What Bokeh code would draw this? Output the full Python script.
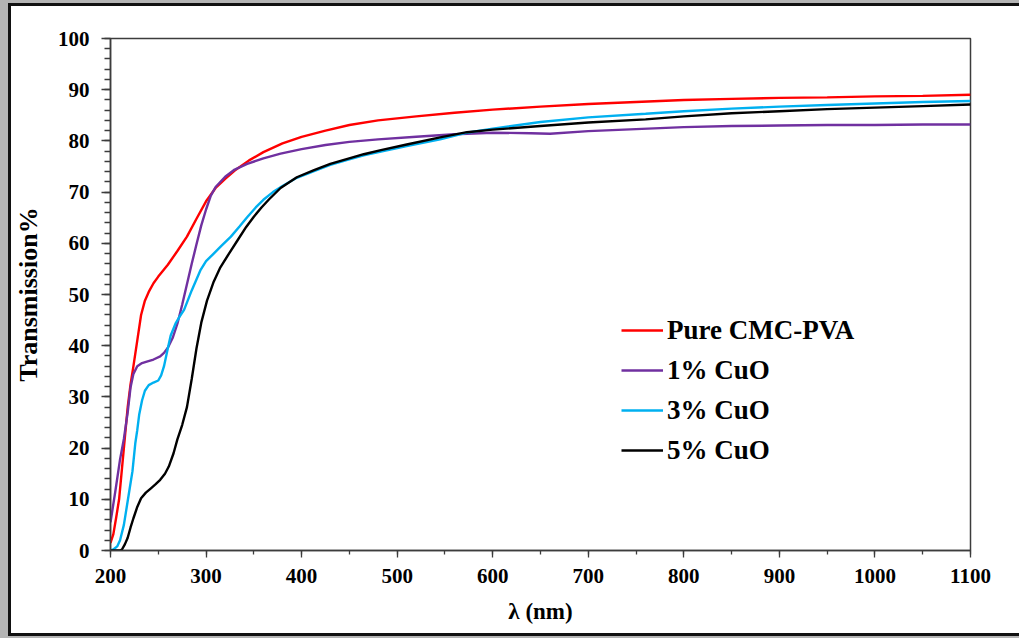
from bokeh.plotting import figure
from bokeh.models import Legend, LegendItem, Range1d, SingleIntervalTicker
from bokeh.embed import file_html
from bokeh.resources import INLINE

# Wavelength (nm) and transmission (%) for each film
wl_pure = [200, 203, 206, 209, 212, 215, 218, 221, 224, 228, 232, 236, 240, 245, 250, 260, 270, 280,
           290, 300, 310, 320, 330, 345, 360, 380, 400, 425, 450, 480, 520, 560, 600, 650, 700, 750,
           800, 850, 900, 950, 1000, 1050, 1100]
t_pure = [1.5, 3.2, 6.5, 10.0, 16.0, 22.0, 28.0, 32.5, 36.0, 41.0, 46.0, 48.8, 50.5, 52.2, 53.5, 55.8,
          58.5, 61.3, 64.8, 68.2, 70.8, 72.6, 74.2, 76.2, 77.8, 79.5, 80.8, 82.0, 83.1, 84.0, 84.8,
          85.5, 86.1, 86.7, 87.2, 87.6, 88.0, 88.2, 88.4, 88.5, 88.7, 88.8, 89.0]

wl_cuo1 = [200, 205, 210, 214, 218, 221, 224, 228, 233, 238, 245, 252, 256, 260, 265, 270, 275, 280,
           285, 290, 295, 300, 305, 310, 320, 330, 343, 360, 378, 400, 425, 450, 480, 520, 560, 600,
           640, 660, 700, 750, 800, 850, 900, 950, 1000, 1050, 1100]
t_cuo1 = [5.5, 11.5, 17.8, 21.8, 27.0, 31.9, 34.5, 36.0, 36.6, 36.9, 37.3, 37.9, 38.6, 39.6, 41.5,
          44.3, 48.0, 52.0, 56.0, 59.8, 63.5, 66.6, 69.3, 71.0, 73.0, 74.4, 75.5, 76.6, 77.5, 78.4,
          79.2, 79.8, 80.3, 80.8, 81.3, 81.6, 81.5, 81.4, 81.9, 82.3, 82.7, 82.9, 83.0, 83.1, 83.1,
          83.2, 83.2]

wl_cuo3 = [200, 203, 207, 210, 214, 217, 220, 223, 226, 228, 230, 233, 236, 240, 245, 250, 253, 256,
           260, 263, 268, 272, 277, 285, 294, 300, 308, 316, 326, 335, 343, 352, 360, 370, 380, 395,
           413, 430, 448, 465, 483, 510, 545, 573, 600, 650, 700, 760, 800, 850, 900, 950, 1000, 1050,
           1100]
t_cuo3 = [0.0, 0.2, 0.8, 2.0, 5.0, 8.5, 12.0, 15.5, 21.0, 23.5, 26.5, 29.3, 31.2, 32.3, 32.8, 33.2,
          34.2, 36.0, 39.5, 42.0, 44.3, 45.6, 47.0, 50.8, 54.7, 56.5, 58.0, 59.5, 61.3, 63.3, 65.1,
          67.0, 68.5, 70.0, 71.2, 72.8, 74.1, 75.3, 76.3, 77.2, 77.9, 79.0, 80.3, 81.6, 82.4, 83.7,
          84.6, 85.3, 85.8, 86.3, 86.7, 87.0, 87.3, 87.6, 87.8]

wl_cuo5 = [200, 205, 210, 212, 215, 218, 221, 224, 228, 232, 237, 242, 247, 252, 257, 261, 266, 270,
           275, 280, 285, 290, 295, 301, 308, 315, 324, 333, 342, 350, 358, 366, 378, 395, 413, 430,
           448, 465, 483, 510, 545, 573, 600, 650, 700, 760, 800, 850, 900, 950, 1000, 1050, 1100]
t_cuo5 = [0.0, 0.0, 0.0, 0.2, 1.2, 2.5, 4.5, 6.3, 8.5, 10.2, 11.3, 12.1, 12.9, 13.8, 15.0, 16.4,
          19.0, 21.7, 24.5, 28.0, 33.5, 39.5, 44.5, 48.8, 52.5, 55.3, 58.0, 60.6, 63.2, 65.2, 67.0,
          68.6, 70.8, 72.9, 74.3, 75.5, 76.5, 77.4, 78.2, 79.3, 80.7, 81.7, 82.2, 82.9, 83.6, 84.2,
          84.8, 85.4, 85.8, 86.2, 86.5, 86.8, 87.1]

series_names = ["Pure CMC-PVA", "1% CuO", "3% CuO", "5% CuO"]
series_colors = ["#FF0000", "#7030A0", "#00B0F0", "#000000"]

SERIF = "Liberation Serif"

p = figure(width=1019, height=638, output_backend="svg", toolbar_location=None,
           x_range=Range1d(200, 1100), y_range=Range1d(0, 100),
           min_border_left=110, min_border_right=49, min_border_top=38, min_border_bottom=88)

# Page frame: grey edge with a dark rule along the left, top and bottom
p.border_fill_alpha = 0
p.styles = {
    "background": "white",
    "box-shadow": ("inset 8px 3px 0 0 #b4b4b4, inset 0 -2px 0 0 #b4b4b4, "
                   "inset 11px 6px 0 0 #111111, inset 0 -5px 0 0 #111111"),
}

p.background_fill_color = "white"
p.outline_line_color = "#3c3c3c"
p.outline_line_width = 1.5
p.xgrid.visible = False
p.ygrid.visible = False

p.xaxis.ticker = SingleIntervalTicker(interval=100, num_minor_ticks=2)
p.yaxis.ticker = SingleIntervalTicker(interval=10, num_minor_ticks=5)

for ax in (p.xaxis[0], p.yaxis[0]):
    ax.axis_line_color = "#3c3c3c"
    ax.axis_line_width = 1.5
    ax.major_tick_line_color = "#3c3c3c"
    ax.minor_tick_line_color = "#3c3c3c"
    ax.major_tick_line_width = 1.3
    ax.minor_tick_line_width = 1.3
    ax.major_tick_in = 0
    ax.minor_tick_in = 0
    ax.major_label_text_font = SERIF
    ax.major_label_text_font_style = "bold"
    ax.major_label_text_font_size = "21px"
    ax.major_label_text_color = "#000000"
    ax.axis_label_text_font = SERIF
    ax.axis_label_text_font_style = "bold"
    ax.axis_label_text_color = "#000000"

p.yaxis.major_tick_out = 9
p.yaxis.minor_tick_out = 6
p.yaxis.major_label_standoff = 12
p.yaxis.axis_label = "Transmission%"
p.yaxis.axis_label_text_font_size = "26px"
p.yaxis.axis_label_standoff = 12

p.xaxis.major_tick_out = 7
p.xaxis.minor_tick_out = 4
p.xaxis.major_label_standoff = 11
p.xaxis.axis_label = "λ (nm)"
p.xaxis.axis_label_text_font_size = "23px"
p.xaxis.axis_label_standoff = 13

renderers = []
for wl, t, color in zip([wl_pure, wl_cuo1, wl_cuo3, wl_cuo5],
                        [t_pure, t_cuo1, t_cuo3, t_cuo5], series_colors):
    renderers.append(p.line(wl, t, line_color=color, line_width=2.4))

legend = Legend(items=[LegendItem(label=n, renderers=[r]) for n, r in zip(series_names, renderers)],
                location=(511, 80))
legend.glyph_width = 42
legend.glyph_height = 40
legend.label_height = 40
legend.spacing = 0
legend.padding = 0
legend.margin = 0
legend.label_standoff = 4
legend.label_text_font = SERIF
legend.label_text_font_style = "bold"
legend.label_text_font_size = "27px"
legend.label_text_color = "#000000"
legend.border_line_color = None
legend.background_fill_alpha = 0
p.add_layout(legend)

open("out.html", "w").write(file_html(p, INLINE))
